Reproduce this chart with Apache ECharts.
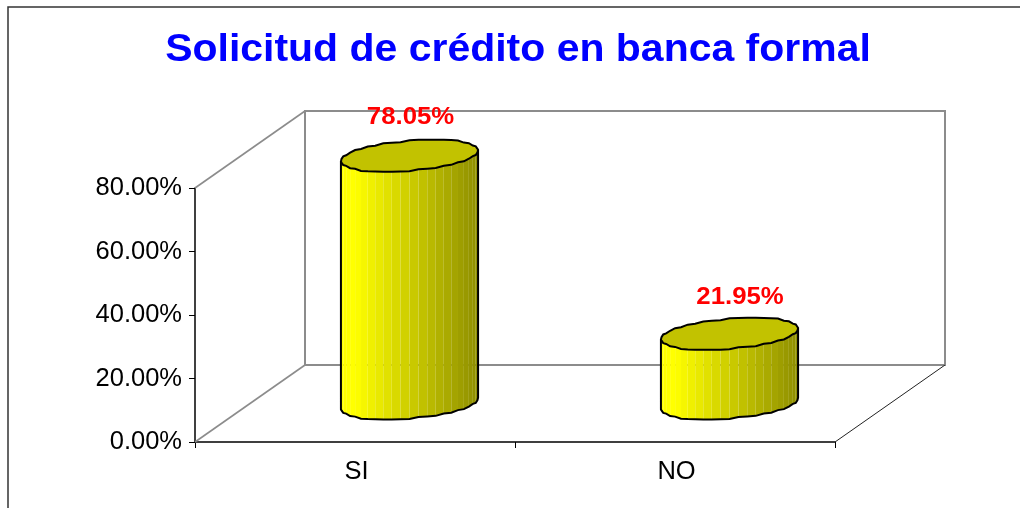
<!DOCTYPE html>
<html><head><meta charset="utf-8">
<style>html,body{margin:0;padding:0;background:#fff}#c{width:1020px;height:508px}</style>
<script src="https://cdn.jsdelivr.net/npm/echarts@6/dist/echarts.min.js"></script>
</head><body><div id="c"></div>
<script>
var titleText = 'Solicitud de crédito en banca formal';
var categories = ['SI', 'NO'];
var values = [78.05, 21.95];
var labelNudge = [[1, -38.5], [10.5, -36.5]];
var FONT = '"Liberation Sans", Arial, sans-serif';
var DEPTH_X = 110, DEPTH_Y = -77;
var CYL_RX = 64.6, CYL_DX = 23, CYL_DY = -16;
var N = 24, SNAP = 3.2, SNAP_MIX = 0.5;

function shade(f){
  var v = f < 0.1 ? 255 : Math.round(255 - 125 * (f - 0.1));
  return 'rgb(' + v + ',' + v + ',0)';
}
function wallItem(params, api){
  var cs = params.coordSys;
  var l = cs.x, r = cs.x + cs.width, t = cs.y, b = cs.y + cs.height;
  function ln(x1,y1,x2,y2,c,lw){return {type:'line',shape:{x1:x1,y1:y1,x2:x2,y2:y2},style:{stroke:c,lineWidth:lw,fill:null}};}
  var g = '#8c8c8c';
  return {type:'group',children:[
    {type:'rect',shape:{x:l+DEPTH_X,y:t+DEPTH_Y,width:cs.width,height:cs.height},style:{fill:'none',stroke:g,lineWidth:2}},
    ln(l,t,l+DEPTH_X,t+DEPTH_Y,g,1.6),
    ln(l,b,l+DEPTH_X,b+DEPTH_Y,g,1.6),
    ln(r,b,r+DEPTH_X,b+DEPTH_Y,'#222',1)
  ]};
}
function cylItem(params, api){
  var i = api.value(0), v = api.value(1);
  var base = api.coord([i, 0]), top = api.coord([i, v]);
  var ox = DEPTH_X / 2 - 0.5, oy = DEPTH_Y / 2;
  var cx = base[0] + ox, by = base[1] + oy, ty = top[1] + oy;
  function pt(a, y){
    var dy = CYL_DY * Math.sin(a);
    var wob = Math.round(dy / SNAP) * SNAP;
    return [cx + CYL_RX * Math.cos(a) + CYL_DX * Math.sin(a), y + dy * (1 - SNAP_MIX) + wob * SNAP_MIX];
  }
  var aR = Math.atan2(CYL_DX, CYL_RX);   // right silhouette
  var aL = aR - Math.PI;                 // left silhouette; the front arc joins them through sin<0
  var w = 2 * Math.hypot(CYL_RX, CYL_DX), left = cx - w / 2;
  var kids = [], front = [], k;
  for (k = 0; k <= N; k++) front.push(aL + (k / N) * Math.PI);
  for (k = 0; k < N; k++){
    var p1 = pt(front[k], ty), p2 = pt(front[k+1], ty), q2 = pt(front[k+1], by), q1 = pt(front[k], by);
    var f = ((p1[0] + p2[0]) / 2 - left) / w;
    kids.push({type:'polygon',shape:{points:[p1,p2,q2,q1]},style:{fill:shade(f),stroke:null}});
  }
  var outline = [pt(front[0], ty)];
  front.forEach(function(a){ outline.push(pt(a, by)); });
  outline.push(pt(front[N], ty));
  kids.push({type:'polyline',shape:{points:outline},style:{fill:null,stroke:'#000',lineWidth:2}});
  var ring = [];
  for (k = 0; k < 2 * N; k++) ring.push(pt(aL + k / (2 * N) * 2 * Math.PI, ty));
  kids.push({type:'polygon',shape:{points:ring},style:{fill:'#c2c200',stroke:'#000',lineWidth:2}});
  kids.push({type:'text',x:cx + labelNudge[i][0],y:ty + labelNudge[i][1],scaleX:1.12,style:{text:v.toFixed(2) + '%',fill:'#ff0000',font:'bold 23px ' + FONT,align:'center',verticalAlign:'middle'}});
  return {type:'group',children:kids};
}
var chart = echarts.init(document.getElementById('c'), null, {renderer:'canvas'});
chart.setOption({
  animation:false,
  backgroundColor:'#fff',
  grid:{left:195,right:185,top:188,bottom:66},
  xAxis:{type:'category',data:categories,
    axisLine:{lineStyle:{color:'#000',width:1.5}},
    axisTick:{show:true,length:6,lineStyle:{color:'#000',width:1}},
    axisLabel:{color:'#000',fontFamily:FONT,fontSize:25.5,margin:17,padding:[0,0,0,3]},
    splitLine:{show:false}},
  yAxis:{type:'value',min:0,max:80,interval:20,
    axisLine:{show:true,lineStyle:{color:'#000',width:1.5}},
    axisTick:{show:true,length:6,lineStyle:{color:'#000',width:1}},
    axisLabel:{color:'#000',fontFamily:FONT,fontSize:25.5,margin:13,formatter:function(v){return v.toFixed(2)+'%';}},
    splitLine:{show:false}},
  graphic:[
    {type:'rect',shape:{x:8,y:7,width:1200,height:700},style:{fill:'none',stroke:'#333',lineWidth:1.5},silent:true},
    {type:'text',x:518,y:51,scaleX:1.078,style:{text:titleText,fill:'#0000ff',font:'bold 38px ' + FONT,align:'center',verticalAlign:'middle'},silent:true}
  ],
  series:[
    {type:'custom',name:'walls',renderItem:wallItem,data:[[0,0]],z:1,clip:false,silent:true},
    {type:'custom',name:'Solicitud',renderItem:cylItem,data:values.map(function(v,i){return [i,v];}),z:3,clip:false,encode:{x:0,y:1}}
  ]
});
</script></body></html>
